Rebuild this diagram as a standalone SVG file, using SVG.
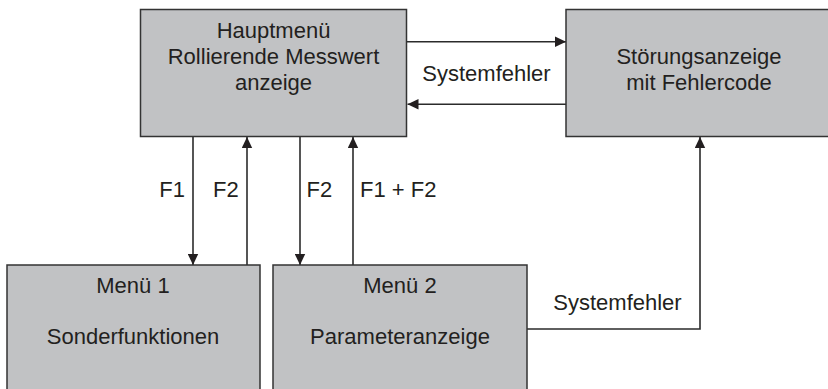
<svg xmlns="http://www.w3.org/2000/svg" width="828" height="389" viewBox="0 0 828 389">
  <defs>
    <style>
      .box { fill: #c1c2c4; stroke: #333333; stroke-width: 1.5; }
      .lbl { font-family: "Liberation Sans", Arial, sans-serif; font-size: 22px; fill: #231f20; }
      .mid { text-anchor: middle; }
      .end { text-anchor: end; }
      .wire { fill: none; stroke: #2b2b2b; stroke-width: 1.6; marker-end: url(#arrow); }
    </style>
    <marker id="arrow" viewBox="0 0 11 11" refX="11" refY="5.5" markerWidth="11" markerHeight="11" markerUnits="userSpaceOnUse" orient="auto">
      <path d="M0,0.3 L11,5.5 L0,10.7 Z" fill="#231f20"/>
    </marker>
  </defs>
  <rect width="828" height="389" fill="#ffffff"/>

  <g id="connectors">
    <path class="wire" d="M407,41.7 H566"/>
    <path class="wire" d="M566,104.3 H407.5"/>
    <path class="wire" d="M193,137 V265"/>
    <path class="wire" d="M247,265 V137"/>
    <path class="wire" d="M300,137 V265"/>
    <path class="wire" d="M353,265 V137"/>
    <path class="wire" d="M527,329 H700 V137"/>
    <text class="lbl mid" x="486.5" y="81">Systemfehler</text>
    <text class="lbl end" x="185" y="197">F1</text>
    <text class="lbl" x="213" y="197">F2</text>
    <text class="lbl" x="306.5" y="197">F2</text>
    <text class="lbl" x="360" y="197">F1 + F2</text>
    <text class="lbl mid" x="617.5" y="310">Systemfehler</text>
  </g>

  <g id="hauptmenue">
    <rect class="box" x="140.5" y="9.5" width="266" height="127"/>
    <text class="lbl mid" x="273.5" y="37.5">Hauptmenü</text>
    <text class="lbl mid" x="273.5" y="63.5">Rollierende Messwert</text>
    <text class="lbl mid" x="273.5" y="89.5">anzeige</text>
  </g>

  <g id="stoerungsanzeige">
    <rect class="box" x="566" y="9.5" width="272" height="127"/>
    <text class="lbl mid" x="699" y="63.5">Störungsanzeige</text>
    <text class="lbl mid" x="699" y="90">mit Fehlercode</text>
  </g>

  <g id="menue1">
    <rect class="box" x="7" y="265" width="253" height="132"/>
    <text class="lbl mid" x="133" y="293">Menü 1</text>
    <text class="lbl mid" x="133" y="344">Sonderfunktionen</text>
  </g>

  <g id="menue2">
    <rect class="box" x="273" y="265" width="254" height="132"/>
    <text class="lbl mid" x="400" y="293">Menü 2</text>
    <text class="lbl mid" x="400" y="344">Parameteranzeige</text>
  </g>
</svg>
